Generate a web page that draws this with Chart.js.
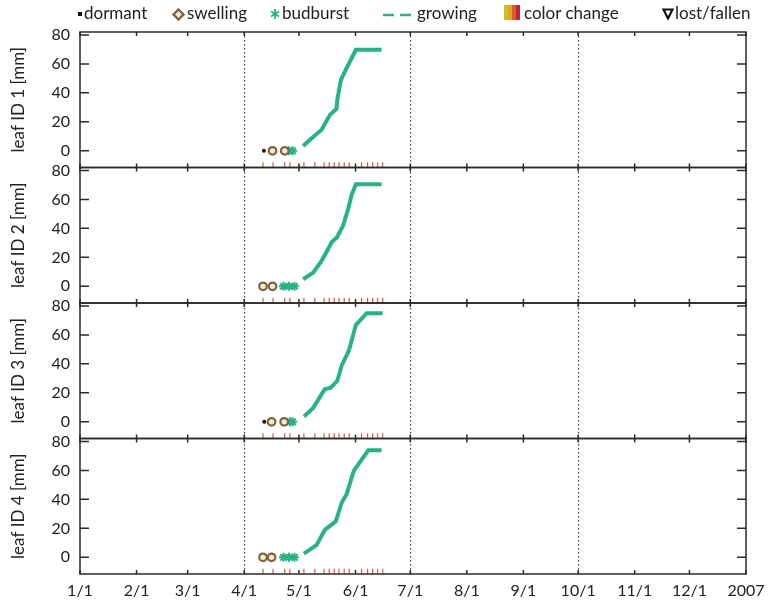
<!DOCTYPE html>
<html>
<head>
<meta charset="utf-8">
<script src="https://cdn.jsdelivr.net/npm/chart.js@4.4.1/dist/chart.umd.min.js"></script>
<style>
  body { margin: 0; background: #fff; }
  #wrap { position: relative; width: 774px; height: 600px; font-family: Lato, "Open Sans", sans-serif; }
  #chart { position: absolute; left: 0; top: 0; }
  .lg { position: absolute; top: 3px; font-size: 17px; color: #222; white-space: nowrap; line-height: 20px; }
  .ic { position: absolute; }
</style>
</head>
<body>
<div id="wrap">
  <canvas id="chart" width="774" height="600"></canvas>
  <div id="legend"></div>
</div>
<script>
  // x axis: day of year, month ticks
  const monthTicks = [0, 31, 59, 90, 120, 151, 181, 212, 243, 273, 304, 334, 365];
  const monthLabels = ['1/1', '2/1', '3/1', '4/1', '5/1', '6/1', '7/1', '8/1', '9/1', '10/1', '11/1', '12/1', '2007'];
  const quarterLines = [90, 181, 273];
  const yTicks = [0, 20, 40, 60, 80];

  // phenology observations per leaf (day of year)
  const dormantDays = [[100.8], [], [101], []];
  const swellingDays = [[105.5, 112.2], [100.3, 105.5], [105, 111.9], [100.3, 105]];
  const budburstDays = [[114.5, 116.5], [111.5, 114.5, 117.5], [115, 116.5], [111.5, 114.5, 117.5]];

  // leaf length while growing [mm]
  const growDays = [
    [122.3, 126, 132.4, 137, 140.6, 141, 143, 146.1, 151.2, 165.3],
    [122.3, 127.8, 132.4, 136, 137.9, 140.9, 144.2, 147, 148.8, 151.2, 165.3],
    [122.8, 127.8, 134.1, 137.4, 141, 143.4, 147.4, 151.2, 157.1, 165.9],
    [122.7, 129.6, 134.2, 140.2, 143.4, 146.1, 150.1, 158, 165.3]
  ];
  const growLength = [
    [3.4, 7.6, 14.5, 24.8, 29, 35.2, 49, 57, 69.7, 69.7],
    [4.9, 9.5, 17.6, 25.7, 30.4, 33.9, 42, 53.5, 62.8, 70.4, 70.4],
    [3.7, 9.6, 22.5, 23.6, 28.3, 38.8, 49.3, 66.9, 75, 75],
    [2.5, 8.4, 19, 24.8, 37.7, 43.5, 59.9, 73.9, 73.9]
  ];

  // observation dates (red marks along the bottom of each panel)
  const obsDays = [100.3, 105.8, 112.2, 115, 122.7, 128.7, 133.8, 136.6, 139.3, 142, 144.8, 147.5, 154.3, 157.6, 160.4, 163.1, 165.9];
  const obsMarkY = -9.6;

  const yMin = -11.5, yMax = 82;
  const green = '#27b383';
  const brown = '#7f6540';
  const textColor = '#222';

  Chart.defaults.font.family = 'Lato, "Open Sans", sans-serif';

  // legend built as html
  function buildLegend() {
    const lg = document.getElementById('legend');
    lg.innerHTML = `
      <div class="ic" style="left:78px;top:12px;width:4px;height:4px;background:#111"></div>
      <div class="lg" style="left:84px">dormant</div>
      <svg class="ic" style="left:172px;top:8px" width="13" height="13"><path d="M6.5 1.5 L11.5 6.5 L6.5 11.5 L1.5 6.5 Z" fill="#f4ecd8" stroke="${brown}" stroke-width="2.4"/></svg>
      <div class="lg" style="left:187px">swelling</div>
      <svg class="ic" style="left:270px;top:8px" width="10" height="12"><g stroke="${green}" stroke-width="1.8"><line x1="5" y1="1" x2="5" y2="11"/><line x1="1" y1="3.5" x2="9" y2="8.5"/><line x1="1" y1="8.5" x2="9" y2="3.5"/></g></svg>
      <div class="lg" style="left:282px">budburst</div>
      <svg class="ic" style="left:383px;top:13px" width="30" height="4"><line x1="0" y1="2" x2="30" y2="2" stroke="${green}" stroke-width="2.4" stroke-dasharray="11,6"/></svg>
      <div class="lg" style="left:417px">growing</div>
      <div class="ic" style="left:504px;top:5px;width:16px;height:15px;background:linear-gradient(90deg,#c9c12a 0 25%,#e6a326 25% 50%,#e0582c 50% 75%,#b8293e 75% 100%)"></div>
      <div class="lg" style="left:524px">color change</div>
      <svg class="ic" style="left:662px;top:8px" width="12" height="12"><path d="M1.5 1.5 L10.5 1.5 L6 10.5 Z" fill="none" stroke="#111" stroke-width="2.2"/></svg>
      <div class="lg" style="left:675px">lost/fallen</div>`;
  }

  function points(xs, y) {
    return xs.map(x => ({ x: x, y: y }));
  }

  function buildDatasets() {
    const sets = [];
    for (let i = 0; i < 4; i++) {
      const axis = 'y' + (i + 1);
      sets.push({
        label: 'growing', yAxisID: axis, showLine: true,
        data: growDays[i].map((d, k) => ({ x: d, y: growLength[i][k] })),
        borderColor: green, borderWidth: 4, pointRadius: 0, tension: 0
      });
      sets.push({
        label: 'dormant', yAxisID: axis, data: points(dormantDays[i], 0),
        pointStyle: 'circle', pointRadius: 2, backgroundColor: '#111', borderColor: '#111', borderWidth: 0
      });
      sets.push({
        label: 'swelling', yAxisID: axis, data: points(swellingDays[i], 0),
        pointStyle: 'circle', pointRadius: 3.8, backgroundColor: '#f4ecd8', borderColor: brown, borderWidth: 2.2
      });
      sets.push({
        label: 'budburst', yAxisID: axis, data: points(budburstDays[i], 0),
        pointStyle: 'star', pointRadius: 4.5, borderColor: green, backgroundColor: green, borderWidth: 2
      });
      sets.push({
        label: 'observed', yAxisID: axis, data: points(obsDays, obsMarkY),
        pointStyle: 'line', rotation: 90, pointRadius: 2.6, borderColor: '#e0573a', borderWidth: 1.2
      });
    }
    return sets;
  }

  function yAxis(n) {
    return {
      type: 'linear', position: 'left', stack: 'leaves', stackWeight: 1,
      min: yMin, max: yMax,
      afterBuildTicks: s => { s.ticks = yTicks.map(v => ({ value: v })); },
      afterFit: s => { s.width = 80; },
      grid: { display: false, drawTicks: false },
      border: { display: false },
      ticks: { autoSkip: false, padding: 10, color: textColor, font: { size: 16 } },
      title: {
        display: true, text: `leaf ID ${n} [mm]`, color: textColor,
        font: { size: 17 }, padding: { top: 8, bottom: 0 }
      }
    };
  }

  // panel frames plus inward tick marks
  const framePlugin = {
    id: 'panelFrames',
    afterDatasetsDraw(chart) {
      const { ctx, chartArea } = chart;
      const xs = chart.scales.x;
      ctx.save();
      ctx.strokeStyle = '#2a2a2a';
      ctx.lineWidth = 1.5;
      ['y1', 'y2', 'y3', 'y4'].forEach(id => {
        const s = chart.scales[id];
        ctx.strokeRect(chartArea.left, s.top, chartArea.right - chartArea.left, s.bottom - s.top);
        ctx.beginPath();
        s.ticks.forEach(t => {
          const py = s.getPixelForValue(t.value);
          ctx.moveTo(chartArea.left, py); ctx.lineTo(chartArea.left + 9, py);
          ctx.moveTo(chartArea.right, py); ctx.lineTo(chartArea.right - 9, py);
        });
        xs.ticks.forEach(t => {
          const px = xs.getPixelForValue(t.value);
          ctx.moveTo(px, s.top); ctx.lineTo(px, s.top + 4);
          ctx.moveTo(px, s.bottom); ctx.lineTo(px, s.bottom - 4);
        });
        ctx.stroke();
      });
      ctx.restore();
    }
  };

  buildLegend();

  const ctx = document.getElementById('chart').getContext('2d');
  new Chart(ctx, {
    type: 'scatter',
    data: { datasets: buildDatasets() },
    options: {
      responsive: false,
      animation: false,
      layout: { padding: { top: 32, right: 28, left: 0, bottom: 0 } },
      plugins: { legend: { display: false }, tooltip: { enabled: false } },
      scales: {
        x: {
          type: 'linear', min: 0, max: 365,
          afterBuildTicks: s => { s.ticks = monthTicks.map(v => ({ value: v })); },
          afterFit: s => { s.height = 26; },
          ticks: {
            autoSkip: false, maxRotation: 0, padding: 7, color: textColor, font: { size: 16 },
            callback: (v, i) => monthLabels[i]
          },
          grid: {
            drawTicks: false, lineWidth: 1.2,
            color: c => (c.tick && quarterLines.includes(c.tick.value)) ? '#444' : 'rgba(0,0,0,0)'
          },
          border: { display: false, dash: [1.5, 2.5] }
        },
        // stacked axes are placed bottom-up in definition order
        y4: yAxis(4),
        y3: yAxis(3),
        y2: yAxis(2),
        y1: yAxis(1)
      }
    },
    plugins: [framePlugin]
  });
</script>
</body>
</html>
